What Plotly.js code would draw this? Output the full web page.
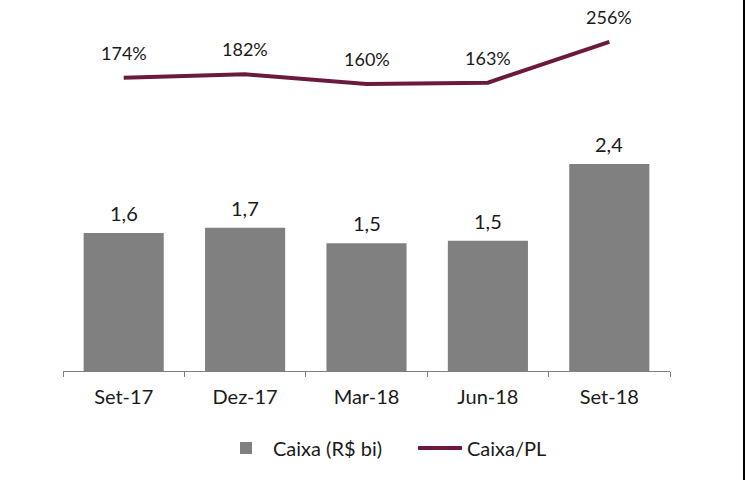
<!DOCTYPE html>
<html>
<head>
<meta charset="utf-8">
<script src="https://cdn.plot.ly/plotly-3.0.1.min.js"></script>
<style>
  body { margin: 0; background: #fff; }
  #chart { width: 743px; height: 480px; border-right: 2px solid #000; }
</style>
</head>
<body>
<div id="chart"></div>
<script>
var periodos = ['Set-17', 'Dez-17', 'Mar-18', 'Jun-18', 'Set-18'];
var caixa = [1.60, 1.66, 1.48, 1.51, 2.40];
var caixaLabels = ['1,6', '1,7', '1,5', '1,5', '2,4'];
var caixaPL = [174, 182, 160, 163, 256];

var txt = '#1a1a1a';
var fonte = 'Lato, "Open Sans", sans-serif';

var barras = {
  x: periodos,
  y: caixa,
  type: 'bar',
  name: 'Caixa (R$ bi)',
  marker: { color: '#808080' },
  width: 0.66,
  hoverinfo: 'none'
};

var linha = {
  x: periodos,
  y: caixaPL,
  type: 'scatter',
  mode: 'lines',
  name: 'Caixa/PL',
  yaxis: 'y2',
  line: { color: '#6b1a3d', width: 4 },
  hoverinfo: 'none'
};

var anotacoes = [];
periodos.forEach(function (p, i) {
  anotacoes.push({
    x: p, y: caixa[i], xref: 'x', yref: 'y',
    text: caixaLabels[i], showarrow: false,
    yanchor: 'middle', yshift: 20,
    font: { size: 20, color: txt, family: fonte }
  });
  anotacoes.push({
    x: p, y: caixaPL[i], xref: 'x', yref: 'y2',
    text: caixaPL[i] + '%', showarrow: false,
    yanchor: 'middle', yshift: 25,
    font: { size: 18, color: txt, family: fonte }
  });
});

var layout = {
  width: 743,
  height: 480,
  margin: { l: 63, r: 73, t: 10, b: 109 },
  paper_bgcolor: '#fff',
  plot_bgcolor: '#fff',
  font: { family: fonte, size: 20, color: txt },
  showlegend: true,
  legend: {
    orientation: 'h',
    x: 0.257, xanchor: 'left',
    y: -0.213, yanchor: 'middle',
    font: { size: 20, color: txt },
    itemwidth: 44,
    entrywidth: 135,
    traceorder: 'normal'
  },
  xaxis: {
    type: 'category',
    showline: true,
    linecolor: '#808080',
    linewidth: 1,
    ticks: 'outside',
    tickson: 'boundaries',
    ticklen: 5,
    tickcolor: '#808080',
    ticklabelstandoff: 8,
    showgrid: false,
    zeroline: false,
    tickfont: { size: 20, color: txt }
  },
  yaxis: {
    range: [0, 4.186],
    visible: false,
    showgrid: false,
    zeroline: false
  },
  yaxis2: {
    overlaying: 'y',
    side: 'right',
    range: [-496, 329],
    visible: false,
    showgrid: false,
    zeroline: false
  },
  annotations: anotacoes
};

Plotly.newPlot('chart', [barras, linha], layout, { displayModeBar: false, staticPlot: true });
</script>
</body>
</html>
